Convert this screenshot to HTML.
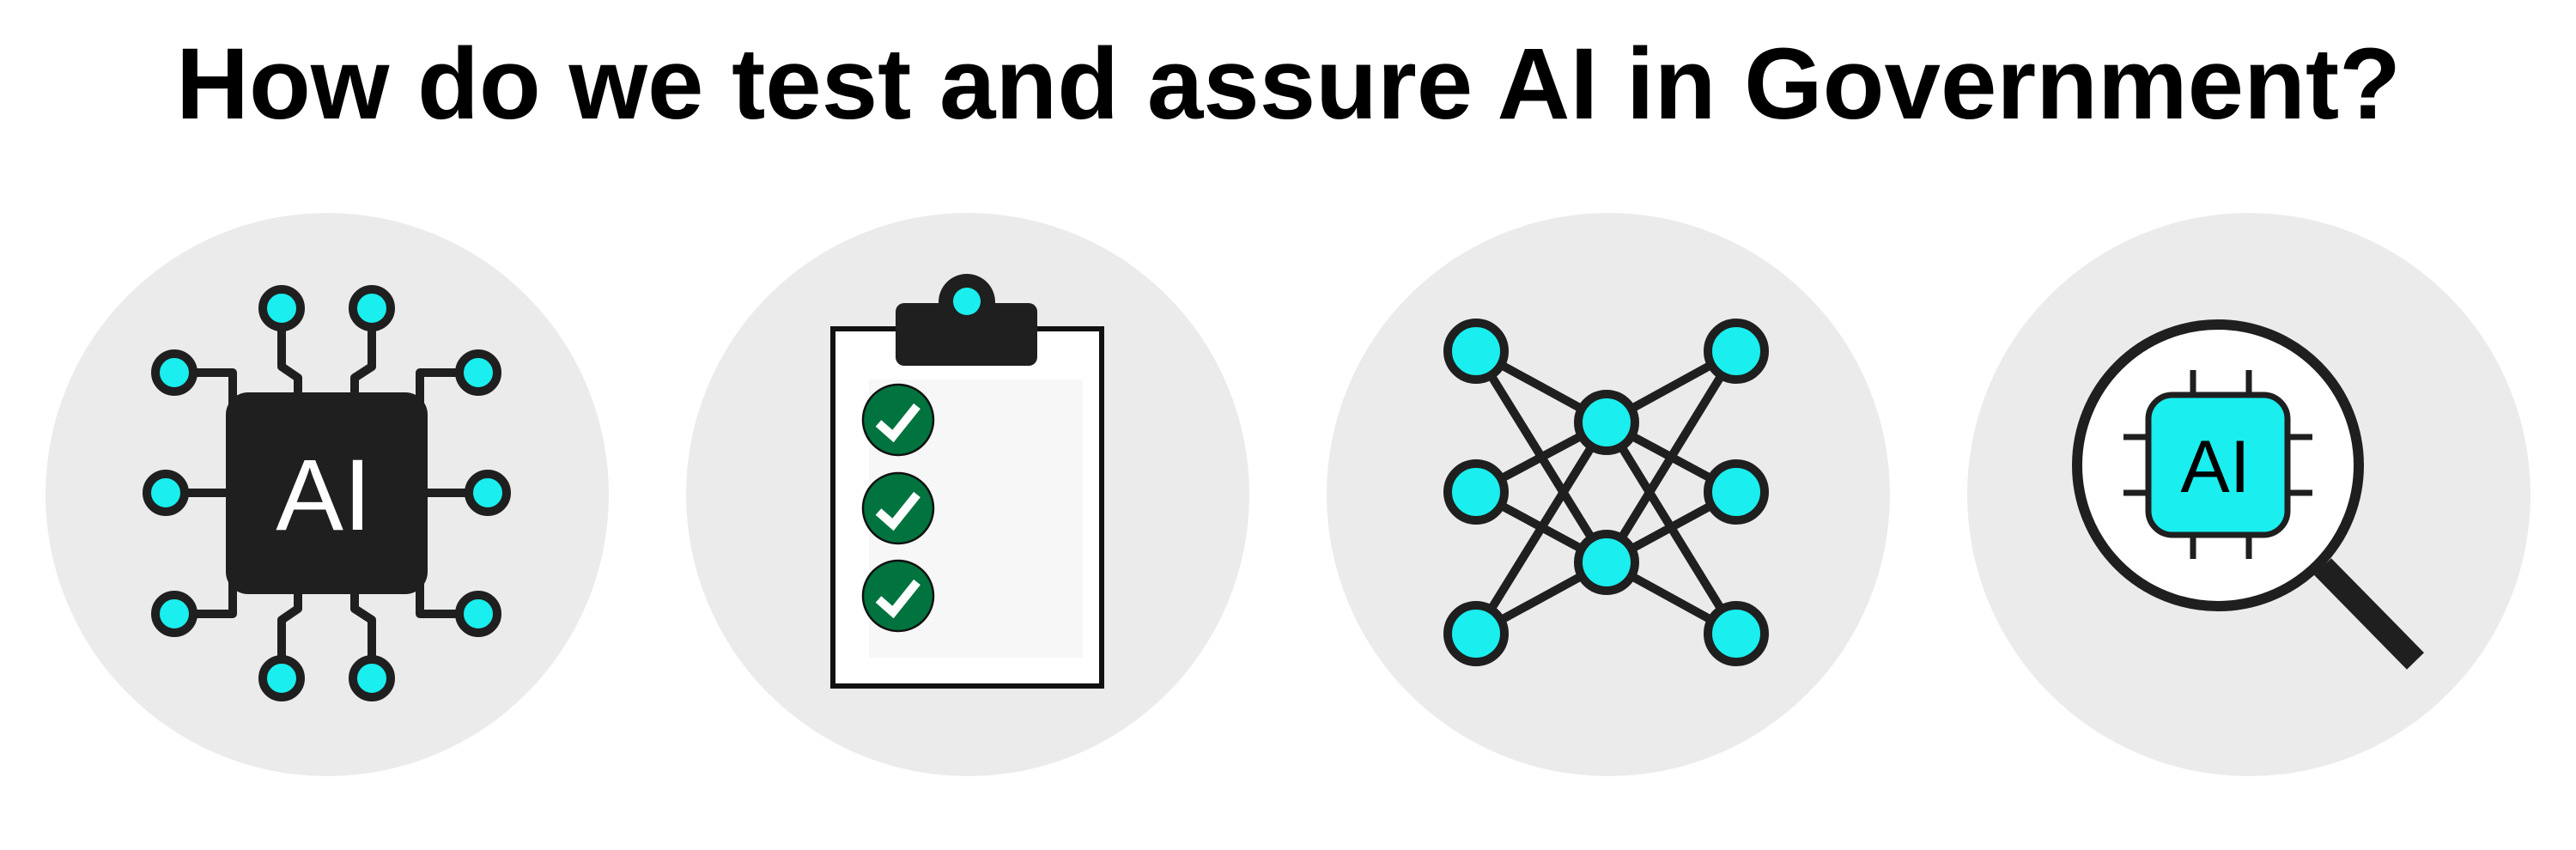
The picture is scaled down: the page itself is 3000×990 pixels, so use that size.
<!DOCTYPE html>
<html><head><meta charset="utf-8"><style>html,body{margin:0;padding:0;background:#fff}svg{display:block}</style></head>
<body>
<svg width="3000" height="990" viewBox="0 0 3000 990" xmlns="http://www.w3.org/2000/svg">
<text x="205" y="138" font-family="Liberation Sans, Arial, sans-serif" font-weight="bold" font-size="118" textLength="2591" lengthAdjust="spacingAndGlyphs" fill="#000">How do we test and assure AI in Government?</text>
<g fill="#ebebeb">
<circle cx="381" cy="576" r="328"/><circle cx="1127" cy="576" r="328"/><circle cx="1873" cy="576" r="328"/><circle cx="2619" cy="576" r="328"/>
</g>
<!-- Icon 1 -->
<g stroke="#1f1f1f" stroke-width="10" fill="none" stroke-linejoin="round">
<path d="M328 359 V427 L347 440 V470"/>
<path d="M433 359 V427 L413 440 V470"/>
<path d="M328 790 V722 L347 709 V680"/>
<path d="M433 790 V722 L413 709 V680"/>
<path d="M203 434 H271 V480"/>
<path d="M557 434 H489 V480"/>
<path d="M203 715 H271 V670"/>
<path d="M557 715 H489 V670"/>
<path d="M193 574 H270"/>
<path d="M568 574 H490"/>
</g>
<rect x="263" y="457" width="235" height="235" rx="26" fill="#1f1f1f"/>
<text x="377" y="617" text-anchor="middle" font-family="Liberation Sans, Arial, sans-serif" font-size="118" fill="#fff">AI</text>
<g fill="#1aeeee" stroke="#1f1f1f" stroke-width="10">
<circle cx="328" cy="359" r="22"/><circle cx="433" cy="359" r="22"/>
<circle cx="328" cy="790" r="22"/><circle cx="433" cy="790" r="22"/>
<circle cx="203" cy="434" r="22"/><circle cx="193" cy="574" r="22"/><circle cx="203" cy="715" r="22"/>
<circle cx="557" cy="434" r="22"/><circle cx="568" cy="574" r="22"/><circle cx="557" cy="715" r="22"/>
</g>
<!-- Icon 2 -->
<rect x="970" y="383" width="313" height="416" fill="#fff" stroke="#111" stroke-width="6"/>
<rect x="1012" y="442" width="249" height="324" fill="#f7f7f7"/>
<circle cx="1126" cy="352" r="33" fill="#1f1f1f"/>
<rect x="1043" y="353" width="165" height="73" rx="10" fill="#1f1f1f"/>
<circle cx="1126" cy="351" r="16" fill="#1aeeee"/>
<g fill="#00733e" stroke="#111" stroke-width="2.5">
<circle cx="1046" cy="489" r="41"/><circle cx="1046" cy="592" r="41"/><circle cx="1046" cy="694" r="41"/>
</g>
<g fill="none" stroke="#fff" stroke-width="10">
<path d="M1023 493 L1040 508 L1068 473"/><path d="M1023 596 L1040 611 L1068 576"/><path d="M1023 698 L1040 713 L1068 678"/>
</g>
<!-- Icon 3 -->
<g stroke="#1f1f1f" stroke-width="10">
<line x1="1719" y1="409" x2="1871" y2="492"/><line x1="1719" y1="409" x2="1871" y2="655"/>
<line x1="1719" y1="573" x2="1871" y2="492"/><line x1="1719" y1="573" x2="1871" y2="655"/>
<line x1="1719" y1="738" x2="1871" y2="492"/><line x1="1719" y1="738" x2="1871" y2="655"/>
<line x1="2022" y1="409" x2="1871" y2="492"/><line x1="2022" y1="409" x2="1871" y2="655"/>
<line x1="2022" y1="573" x2="1871" y2="492"/><line x1="2022" y1="573" x2="1871" y2="655"/>
<line x1="2022" y1="738" x2="1871" y2="492"/><line x1="2022" y1="738" x2="1871" y2="655"/>
</g>
<g fill="#1aeeee" stroke="#1f1f1f" stroke-width="10">
<circle cx="1719" cy="409" r="33"/><circle cx="1719" cy="573" r="33"/><circle cx="1719" cy="738" r="33"/>
<circle cx="1871" cy="492" r="33"/><circle cx="1871" cy="655" r="33"/>
<circle cx="2022" cy="409" r="33"/><circle cx="2022" cy="573" r="33"/><circle cx="2022" cy="738" r="33"/>
</g>
<!-- Icon 4 -->
<line x1="2705" y1="660" x2="2813" y2="770" stroke="#1f1f1f" stroke-width="28"/>
<circle cx="2583" cy="542" r="164" fill="#fff" stroke="#1f1f1f" stroke-width="12"/>
<g stroke="#1f1f1f" stroke-width="7">
<line x1="2554" y1="431" x2="2554" y2="460"/><line x1="2619" y1="431" x2="2619" y2="460"/>
<line x1="2554" y1="623" x2="2554" y2="651"/><line x1="2619" y1="623" x2="2619" y2="651"/>
<line x1="2473" y1="509" x2="2502" y2="509"/><line x1="2473" y1="574" x2="2502" y2="574"/>
<line x1="2664" y1="509" x2="2693" y2="509"/><line x1="2664" y1="574" x2="2693" y2="574"/>
</g>
<rect x="2502" y="460" width="162" height="163" rx="28" fill="#1aeeee" stroke="#1f1f1f" stroke-width="7"/>
<text x="2580" y="573" text-anchor="middle" font-family="Liberation Sans, Arial, sans-serif" font-size="86" fill="#000">AI</text>
</svg>
</body></html>
